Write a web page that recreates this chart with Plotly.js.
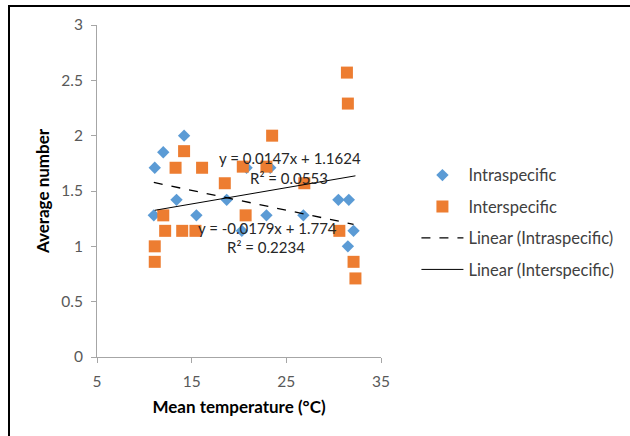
<!DOCTYPE html>
<html>
<head>
<meta charset="utf-8">
<script src="https://cdn.plot.ly/plotly-3.0.1.min.js"></script>
<style>
  html, body { margin: 0; padding: 0; background: #fff; }
  #wrap { position: relative; width: 630px; height: 436px; overflow: hidden; }
  #chart { position: absolute; left: 0; top: 0; width: 630px; height: 436px; }
  #frame { position: absolute; left: 8px; top: 5px; width: 640px; height: 450px;
           border-top: 2px solid #000; border-left: 2px solid #000; pointer-events: none; }
</style>
</head>
<body>
<div id="wrap">
  <div id="chart"></div>
  <div id="frame"></div>
</div>
<script>
// Data
const intraX = [11.1, 12.0, 14.2, 13.4, 11.0, 15.5, 18.7, 20.8, 23.3, 20.3, 22.9, 26.8, 30.5, 31.6, 32.1, 31.5];
const intraY = [1.71, 1.85, 2.00, 1.42, 1.28, 1.28, 1.42, 1.71, 1.71, 1.14, 1.28, 1.28, 1.42, 1.42, 1.14, 1.00];
const interX = [14.2, 13.3, 16.1, 18.5, 12.0, 12.2, 14.0, 15.4, 11.1, 11.1, 31.4, 31.5, 23.5, 20.4, 22.9, 26.9, 20.7, 30.6, 32.1, 32.3];
const interY = [1.86, 1.71, 1.71, 1.57, 1.28, 1.14, 1.14, 1.14, 1.00, 0.86, 2.57, 2.29, 2.00, 1.72, 1.72, 1.57, 1.28, 1.14, 0.86, 0.71];
// Trendline coefficients as printed on the chart
const trendSlope = [-0.0179, 0.0147];
const trendIntercept = [1.774, 1.1624];
const trendLabels = ["y = -0.0179x + 1.774", "y = 0.0147x + 1.1624"];
const r2Labels = ["R² = 0.2234", "R² = 0.0553"];
const seriesNames = ["Intraspecific", "Interspecific"];
const xTicks = [5, 15, 25, 35];
const yTicks = [0, 0.5, 1, 1.5, 2, 2.5, 3];

function lineFor(xs, i) {
  const x0 = Math.min(...xs), x1 = Math.max(...xs);
  return { x: [x0, x1], y: [trendIntercept[i] + trendSlope[i] * x0, trendIntercept[i] + trendSlope[i] * x1] };
}
const l0 = lineFor(intraX, 0), l1 = lineFor(interX, 1);

const FONT = "Lato, 'Open Sans', sans-serif";

const traces = [
  { type: 'scatter', mode: 'markers', name: seriesNames[0], x: intraX, y: intraY, legendgroup: 'a',
    marker: { symbol: 'diamond', size: 9.5, color: '#5b9bd5' } },
  { type: 'scatter', mode: 'markers', name: seriesNames[1], x: interX, y: interY, legendgroup: 'b',
    marker: { symbol: 'square', size: 12, color: '#ed7d31' } },
  { type: 'scatter', mode: 'lines', name: 'Linear (' + seriesNames[0] + ')', x: l0.x, y: l0.y, legendgroup: 'c',
    line: { color: '#000', width: 1.3, dash: 'dash' } },
  { type: 'scatter', mode: 'lines', name: 'Linear (' + seriesNames[1] + ')', x: l1.x, y: l1.y, legendgroup: 'd',
    line: { color: '#000', width: 1 } }
];

const annFont = { family: FONT, size: 15, color: '#262626' };
const titleFont = { family: FONT, size: 17, color: '#000' };
const layout = {
  width: 630, height: 436,
  margin: { l: 97, r: 249, t: 25, b: 79 },
  paper_bgcolor: '#fff', plot_bgcolor: '#fff',
  font: { family: FONT, size: 15.5, color: '#595959' },
  showlegend: true,
  legend: { xref: 'container', yref: 'container', x: 0.661, y: 0.638, xanchor: 'left', yanchor: 'top',
            itemwidth: 42,
            traceorder: 'grouped', tracegroupgap: 7, font: { family: FONT, size: 16.5, color: '#404040' } },
  xaxis: { range: [5, 35], tickvals: xTicks, showgrid: false, zeroline: false, ticklabelstandoff: 5,
           showline: true, linecolor: '#a6a6a6', linewidth: 1, ticks: 'outside', ticklen: 5, tickcolor: '#a6a6a6',
           title: { text: '<b>Mean temperature (°C)</b>', font: titleFont, standoff: 12 } },
  yaxis: { range: [0, 3], tickvals: yTicks, showgrid: false, zeroline: false, ticklabelstandoff: 5,
           showline: true, linecolor: '#a6a6a6', linewidth: 1, ticks: 'outside', ticklen: 5, tickcolor: '#a6a6a6',
           title: { text: '<b>Average number</b>', font: titleFont, standoff: 7 } },
  annotations: [
    { x: 25.4, y: 1.80, text: trendLabels[1], showarrow: false, font: annFont },
    { x: 25.3, y: 1.62, text: r2Labels[1], showarrow: false, font: annFont },
    { x: 23.0, y: 1.17, text: trendLabels[0], showarrow: false, font: annFont },
    { x: 22.9, y: 0.99, text: r2Labels[0], showarrow: false, font: annFont }
  ]
};

Plotly.newPlot('chart', traces, layout, { staticPlot: true });
</script>
</body>
</html>
